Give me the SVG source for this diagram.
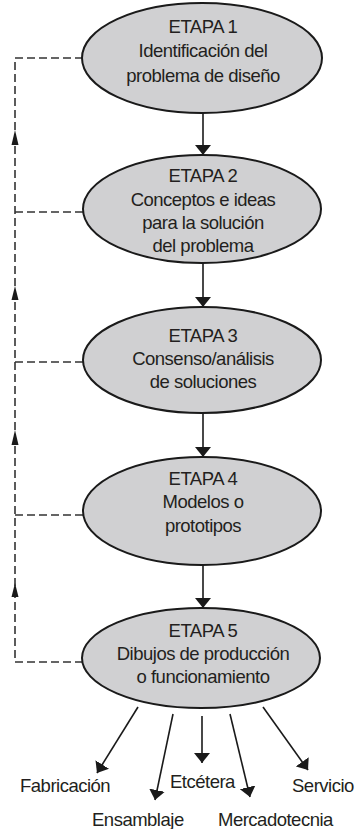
<svg xmlns="http://www.w3.org/2000/svg" width="355" height="829" viewBox="0 0 355 829">
<style>
.node ellipse{fill:#d0d0d2;stroke:#1a1a1a;stroke-width:2}
text{font-family:"Liberation Sans",Arial,sans-serif;font-size:18.5px;letter-spacing:-0.5px;fill:#231f20}
.node text{text-anchor:middle}
.solid{stroke:#1a1a1a;stroke-width:1.6;fill:none}
.dash{stroke:#333;stroke-width:1.6;fill:none;stroke-dasharray:8 4}
</style>
<defs>
<marker id="ah" viewBox="0 0 10 16" refX="10" refY="8" markerWidth="10" markerHeight="16" markerUnits="userSpaceOnUse" orient="auto">
<path d="M0,0 L10,8 L0,16 Z" fill="#1a1a1a"/>
</marker>
</defs>
<g id="connectors">
<line class="solid" x1="203" y1="113" x2="203" y2="155" marker-end="url(#ah)"/>
<line class="solid" x1="203" y1="263" x2="203" y2="307" marker-end="url(#ah)"/>
<line class="solid" x1="203" y1="413" x2="203" y2="457" marker-end="url(#ah)"/>
<line class="solid" x1="203" y1="565" x2="203" y2="608" marker-end="url(#ah)"/>
<line class="solid" x1="138" y1="707" x2="97" y2="773" marker-end="url(#ah)"/>
<line class="solid" x1="173" y1="714" x2="155" y2="800" marker-end="url(#ah)"/>
<line class="solid" x1="202" y1="716" x2="202" y2="763" marker-end="url(#ah)"/>
<line class="solid" x1="230" y1="714" x2="250" y2="797" marker-end="url(#ah)"/>
<line class="solid" x1="263" y1="707" x2="308" y2="770" marker-end="url(#ah)"/>
<path class="dash" d="M83,58 H15 V662 H82"/>
<line class="dash" x1="15" y1="212" x2="83" y2="212"/>
<line class="dash" x1="15" y1="362" x2="83" y2="362"/>
<line class="dash" x1="15" y1="515" x2="83" y2="515"/>
<g fill="#1a1a1a">
<path d="M15,130 L18.5,145 L11.5,145 Z"/>
<path d="M15,286 L18.5,300 L11.5,300 Z"/>
<path d="M15,430 L18.5,445 L11.5,445 Z"/>
<path d="M15,583 L18.5,597 L11.5,597 Z"/>
</g>
</g>
<g id="etapa1" class="node">
<ellipse cx="202" cy="58" rx="120" ry="55"/>
<text x="203" y="33">ETAPA 1</text>
<text x="203" y="57">Identificación del</text>
<text x="203" y="82">problema de diseño</text>
</g>
<g id="etapa2" class="node">
<ellipse cx="202" cy="209" rx="119" ry="54"/>
<text x="203" y="182">ETAPA 2</text>
<text x="203" y="206">Conceptos e ideas</text>
<text x="203" y="229">para la solución</text>
<text x="203" y="252">del problema</text>
</g>
<g id="etapa3" class="node">
<ellipse cx="202" cy="360" rx="119" ry="53"/>
<text x="203" y="342">ETAPA 3</text>
<text x="203" y="365">Consenso/análisis</text>
<text x="203" y="388">de soluciones</text>
</g>
<g id="etapa4" class="node">
<ellipse cx="202" cy="511" rx="119" ry="54"/>
<text x="203" y="485">ETAPA 4</text>
<text x="203" y="508">Modelos o</text>
<text x="203" y="532">prototipos</text>
</g>
<g id="etapa5" class="node">
<ellipse cx="201" cy="658" rx="119" ry="50"/>
<text x="203" y="637">ETAPA 5</text>
<text x="203" y="660">Dibujos de producción</text>
<text x="203" y="683">o funcionamiento</text>
</g>
<g id="outputs">
<text x="20" y="792">Fabricación</text>
<text x="92" y="826">Ensamblaje</text>
<text x="170" y="788">Etcétera</text>
<text x="218" y="826">Mercadotecnia</text>
<text x="292" y="792">Servicio</text>
</g>
</svg>
